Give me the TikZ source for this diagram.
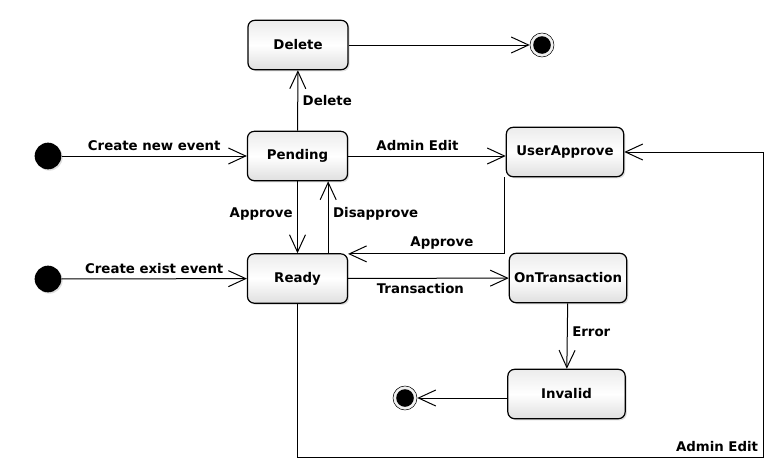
\documentclass[tikz,border=0pt]{standalone}
\usepackage{fontspec}
\setmainfont{DejaVu Sans}
\usetikzlibrary{arrows.meta,shadows}

\begin{document}
\begin{tikzpicture}[x=0.75pt, y=-0.75pt, font=\bfseries, % one unit is one pixel
    state/.style={rectangle, draw, rounded corners=5pt, line width=0.9pt,
      minimum width=75pt, minimum height=37pt,
      top color=gray!15, bottom color=gray!25, middle color=white,
      drop shadow={opacity=0.25, shadow xshift=1.2pt, shadow yshift=-1.2pt}},
    wide/.style={state, minimum width=88pt},
    init/.style={circle, fill=black, minimum size=20pt, inner sep=0pt,
      drop shadow={opacity=0.25, shadow xshift=1pt, shadow yshift=-1pt}},
    final/.style={circle, draw, fill=gray!12, minimum size=18pt, inner sep=0pt,
      path picture={\fill[black] (path picture bounding box.center) circle (6.6pt);}},
    trans/.style={-{Straight Barb[length=13pt,width=12pt]}, line width=0.75pt}
  ]
  \useasboundingbox (0,0) rectangle (780,475);

  \node[state] (delete) at (298,45) {Delete};
  \node[final] (fin1) at (542,45) {};
  \node[init] (init1) at (48,156) {};
  \node[state] (pending) at (297.5,156) {Pending};
  \node[wide] (userapprove) at (565,152) {UserApprove};
  \node[init] (init2) at (48,279) {};
  \node[state] (ready) at (297.5,278.5) {Ready};
  \node[wide] (ontrans) at (568,278) {OnTransaction};
  \node[wide] (invalid) at (566.5,394) {Invalid};
  \node[final] (fin2) at (405,398) {};
  \coordinate (corner) at (763,457); % bottom right bend of the long edge

  \draw[trans] (delete) -- (fin1);
  \draw[trans] (pending) -- node[right] {Delete} (delete);
  \draw[trans] (init1) -- node[above] {Create new event} (pending);
  \draw[trans] (init2) -- node[above] {Create exist event} (ready);
  \draw[trans] (pending) -- node[pos=0.45, left] {Approve} (ready);
  \draw[trans] ([xshift=23pt]ready.north) -- node[pos=0.55, right] {Disapprove}
    ([xshift=23pt]pending.south);
  \draw[trans] (pending.east) -- node[pos=0.44, above] {Admin Edit}
    (pending.east -| userapprove.west);
  \draw[trans] ([xshift=-1pt]userapprove.south west) |- node[pos=0.7, above] {Approve}
    ([yshift=-0.5pt]ready.north east);
  \draw[trans] (ready) -- node[pos=0.45, below] {Transaction} (ontrans);
  \draw[trans] (ontrans) -- node[pos=0.44, right] {Error} (invalid);
  \draw[trans] (invalid.west |- fin2) -- (fin2);
  \draw[trans] (ready.south) |- (corner) node[above left] {Admin Edit}
    |- (userapprove.east);
\end{tikzpicture}
\end{document}
